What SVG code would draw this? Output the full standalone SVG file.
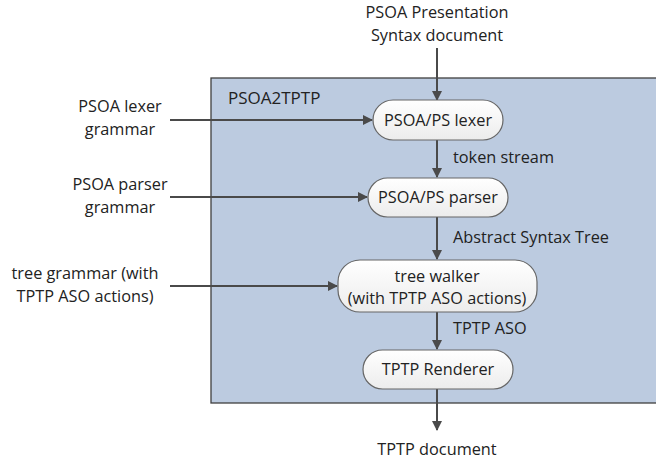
<svg xmlns="http://www.w3.org/2000/svg" width="656" height="464" viewBox="0 0 656 464">
<defs>
<linearGradient id="ng" x1="0" y1="0" x2="0" y2="1">
<stop offset="0" stop-color="#ffffff"/>
<stop offset="1" stop-color="#ececec"/>
</linearGradient>
<marker id="ah" markerWidth="10" markerHeight="10" refX="9" refY="5" orient="auto" markerUnits="userSpaceOnUse">
<path d="M0,0 L10,5 L0,10 z" fill="#4a4a4a"/>
</marker>
<style>
text{font-family:"Open Sans","Liberation Sans",sans-serif;font-size:16.3px;fill:#222}
.c{text-anchor:middle}
.node{fill:url(#ng);stroke:#666;stroke-width:1.2}
.conn line{stroke:#4a4a4a;stroke-width:2;marker-end:url(#ah)}
</style>
</defs>
<rect width="656" height="464" fill="#fff"/>
<g id="container">
<rect x="211" y="78" width="450" height="325" fill="#bccbe0" stroke="#3f3f3f" stroke-width="1.3"/>
<text x="228" y="104" style="font-size:17px">PSOA2TPTP</text>
</g>
<g class="conn" id="connectors">
<line x1="437" y1="48" x2="437" y2="100"/>
<line x1="170" y1="120" x2="372" y2="120"/>
<line x1="437" y1="140" x2="437" y2="177"/>
<line x1="170" y1="197" x2="367" y2="197"/>
<line x1="437" y1="217" x2="437" y2="259"/>
<line x1="170" y1="286" x2="337" y2="286"/>
<line x1="437" y1="312" x2="437" y2="349"/>
<line x1="437" y1="389" x2="437" y2="430"/>
</g>
<g id="lbl-input"><text class="c" x="437" y="18">PSOA Presentation</text><text class="c" x="437" y="41">Syntax document</text></g>
<g id="lbl-lexg"><text class="c" x="120" y="112">PSOA lexer</text><text class="c" x="120" y="135">grammar</text></g>
<g id="lbl-parg"><text class="c" x="120" y="190">PSOA parser</text><text class="c" x="120" y="213">grammar</text></g>
<g id="lbl-treeg"><text class="c" x="85" y="279">tree grammar (with</text><text class="c" x="85" y="302">TPTP ASO actions)</text></g>
<g id="lexer"><rect class="node" x="373" y="100" width="130" height="40" rx="20"/><text class="c" x="438" y="126">PSOA/PS lexer</text></g>
<text x="453" y="163">token stream</text>
<g id="parser"><rect class="node" x="368" y="178" width="140" height="39" rx="19.5"/><text class="c" x="438" y="203">PSOA/PS parser</text></g>
<text x="453" y="243">Abstract Syntax Tree</text>
<g id="walker"><rect class="node" x="338" y="260" width="199" height="52" rx="22"/><text class="c" x="437" y="282">tree walker</text><text class="c" x="437" y="304">(with TPTP ASO actions)</text></g>
<text x="453" y="334">TPTP ASO</text>
<g id="renderer"><rect class="node" x="363" y="350" width="150" height="39" rx="19.5"/><text class="c" x="438" y="375">TPTP Renderer</text></g>
<g id="lbl-output"><text class="c" x="437" y="455">TPTP document</text></g>
</svg>
